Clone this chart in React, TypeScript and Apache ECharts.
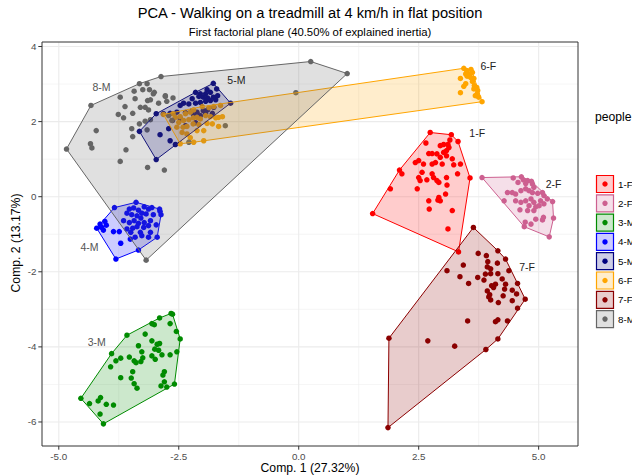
import React, { useEffect, useRef } from "react";
import * as echarts from "echarts";

const groups = ["1-F", "2-F", "3-M", "4-M", "5-M", "6-F", "7-F", "8-M"];
const colors = ["#FF0000", "#CD6090", "#008B00", "#0000FF", "#000080", "#FFA500", "#8B0000", "#666666"];

const g1F = [[2.74,1.71],[3.18,1.65],[3.32,1.47],[2.65,1.43],[2.95,1.36],[3.02,1.39],[3.11,1.39],[3.15,1.51],[3.13,1.31],[3.08,1.23],[3.02,1.18],[2.71,1.15],[2.78,1.15],[2.88,1.14],[2.95,1.05],[3.08,1.09],[3.20,1.01],[2.85,0.91],[2.78,0.87],[2.50,0.96],[2.43,0.91],[2.60,0.87],[2.99,0.87],[3.23,0.85],[3.37,0.87],[2.10,0.71],[2.15,0.61],[2.57,0.65],[2.78,0.61],[2.81,0.51],[2.50,0.51],[2.53,0.43],[2.67,0.45],[2.88,0.43],[2.92,0.38],[3.08,0.51],[3.31,0.61],[3.57,0.50],[2.47,0.21],[3.09,0.31],[1.91,0.21],[3.06,0.07],[2.92,-0.02],[2.95,-0.11],[2.71,-0.11],[2.90,-0.09],[2.72,-0.33],[3.20,-0.37],[1.54,-0.45],[3.11,-0.86],[3.33,-1.47]];
const g2F = [[3.82,0.51],[4.47,0.50],[4.64,0.53],[4.68,0.45],[4.77,0.43],[4.85,0.41],[4.87,0.34],[4.73,0.35],[4.57,0.38],[4.35,0.11],[4.45,0.11],[4.52,0.07],[4.63,0.16],[4.73,0.21],[4.80,0.16],[4.87,0.11],[4.90,0.25],[4.98,0.09],[5.08,0.11],[5.11,0.03],[5.18,-0.06],[5.29,-0.13],[4.28,-0.11],[4.52,-0.11],[4.63,-0.15],[4.73,-0.11],[4.84,-0.06],[4.90,-0.15],[5.04,-0.11],[5.11,-0.19],[4.94,-0.27],[4.80,-0.24],[4.61,-0.35],[4.77,-0.37],[4.90,-0.37],[5.10,-0.55],[5.08,-0.62],[5.31,-0.57],[4.94,-0.60],[4.72,-0.68],[4.84,-0.73],[4.70,-0.80],[5.22,-1.07],[5.01,-0.24]];
const g3M = [[-2.66,-3.11],[-2.63,-3.13],[-2.90,-3.23],[-3.06,-3.38],[-3.01,-3.41],[-2.68,-3.38],[-2.55,-3.59],[-3.58,-3.69],[-3.20,-3.66],[-2.47,-3.79],[-3.06,-3.84],[-2.95,-3.93],[-2.90,-3.91],[-3.34,-3.97],[-3.00,-4.06],[-2.92,-4.09],[-2.54,-4.13],[-3.90,-4.18],[-3.27,-4.13],[-3.71,-4.30],[-3.81,-4.37],[-3.53,-4.27],[-3.25,-4.29],[-3.06,-4.24],[-2.99,-4.33],[-2.85,-4.21],[-2.68,-4.21],[-3.43,-4.37],[-3.39,-4.42],[-3.29,-4.39],[-3.92,-4.53],[-3.46,-4.66],[-2.80,-4.66],[-2.83,-4.75],[-3.71,-4.82],[-3.49,-4.83],[-3.43,-4.98],[-3.37,-5.10],[-2.80,-4.93],[-2.59,-4.99],[-2.75,-5.07],[-2.87,-5.04],[-4.54,-5.37],[-4.13,-5.35],[-4.18,-5.44],[-4.36,-5.51],[-4.01,-5.53],[-3.86,-5.55],[-4.14,-5.79],[-4.07,-6.05]];
const g4M = [[-3.39,-0.15],[-3.84,-0.29],[-3.53,-0.33],[-3.44,-0.30],[-3.34,-0.36],[-3.22,-0.27],[-3.13,-0.33],[-3.06,-0.29],[-2.90,-0.33],[-2.87,-0.48],[-3.58,-0.44],[-3.48,-0.48],[-3.37,-0.51],[-3.27,-0.44],[-3.18,-0.46],[-3.03,-0.48],[-3.29,-0.57],[-4.04,-0.66],[-4.14,-0.73],[-4.21,-0.84],[-4.11,-0.82],[-4.01,-0.76],[-4.07,-0.89],[-3.65,-0.64],[-3.53,-0.69],[-3.43,-0.64],[-3.34,-0.71],[-3.22,-0.69],[-3.09,-0.64],[-2.97,-0.75],[-3.13,-0.77],[-3.23,-0.82],[-3.37,-0.80],[-3.46,-0.84],[-3.86,-0.93],[-3.74,-0.93],[-3.58,-0.86],[-3.50,-0.95],[-3.30,-0.95],[-3.09,-0.95],[-3.27,-1.04],[-3.13,-1.08],[-2.95,-1.08],[-3.41,-1.08],[-3.71,-1.24],[-3.51,-1.13],[-3.34,-1.42],[-3.81,-1.66],[-2.89,-0.39]];
const g5M = [[-1.78,3.02],[-1.71,2.87],[-1.91,2.85],[-1.84,2.78],[-1.94,2.74],[-2.05,2.74],[-2.15,2.78],[-2.08,2.67],[-1.99,2.65],[-1.90,2.63],[-1.78,2.65],[-1.69,2.69],[-2.22,2.61],[-2.29,2.47],[-2.15,2.49],[-2.05,2.51],[-1.94,2.54],[-1.84,2.56],[-1.73,2.58],[-2.40,2.49],[-2.47,2.43],[-1.42,2.49],[-2.97,2.21],[-2.82,2.21],[-2.68,2.22],[-2.54,2.25],[-2.22,2.29],[-2.12,2.25],[-1.99,2.29],[-1.90,2.31],[-1.77,2.38],[-2.19,2.16],[-2.05,2.16],[-1.94,2.21],[-1.80,2.22],[-3.32,1.74],[-2.89,1.65],[-2.71,1.81],[-2.57,1.39],[-2.97,0.99],[-2.47,2.08],[-2.63,2.03],[-2.36,1.89],[-2.15,1.97],[-2.68,1.49],[-2.36,2.24]];
const g6F = [[-2.82,2.19],[-2.62,2.21],[-2.57,2.11],[-2.47,2.13],[-2.36,2.21],[-2.26,2.25],[-2.19,2.31],[-2.01,2.40],[-1.87,2.37],[-1.77,2.40],[-1.63,2.43],[-2.50,1.98],[-2.40,2.03],[-2.29,2.05],[-2.20,2.10],[-2.12,2.11],[-2.05,2.07],[-1.94,2.16],[-1.84,2.13],[-1.73,2.10],[-1.67,2.11],[-1.59,2.13],[-2.54,1.85],[-2.41,1.85],[-2.33,1.87],[-2.20,1.94],[-2.08,1.92],[-1.91,1.95],[-1.80,1.94],[-2.43,1.71],[-2.33,1.67],[-2.12,1.76],[-1.98,1.76],[-1.67,1.87],[-2.47,1.41],[-2.19,1.45],[-1.98,1.49],[-2.26,1.57],[3.44,3.42],[3.50,3.36],[3.59,3.39],[3.62,3.31],[3.57,3.27],[3.48,3.27],[3.37,3.15],[3.51,3.21],[3.58,3.18],[3.65,3.15],[3.62,3.07],[3.48,3.01],[3.44,2.94],[3.66,2.96],[3.71,2.91],[3.65,2.87],[3.73,2.83],[3.37,2.77],[3.72,2.74],[3.75,2.65],[3.68,2.69],[3.82,2.53]];
const g7F = [[3.64,-0.82],[3.74,-1.51],[3.91,-1.57],[4.15,-1.44],[4.31,-1.66],[3.43,-1.82],[3.94,-1.73],[3.93,-1.87],[4.00,-1.92],[4.14,-1.77],[3.09,-1.97],[3.36,-2.13],[3.73,-2.15],[3.89,-2.06],[4.00,-2.05],[4.15,-2.05],[4.38,-1.97],[3.86,-2.22],[4.24,-2.19],[3.54,-2.31],[4.10,-2.33],[4.31,-2.33],[4.56,-2.31],[4.06,-2.42],[4.29,-2.46],[3.93,-2.51],[4.45,-2.49],[4.54,-2.59],[3.96,-2.67],[4.00,-2.75],[4.26,-2.64],[4.16,-2.82],[4.45,-2.77],[4.72,-2.73],[4.56,-2.97],[3.52,-3.31],[4.10,-3.33],[4.15,-3.28],[4.35,-3.31],[2.69,-3.84],[3.25,-3.98],[4.15,-3.79],[3.90,-4.07],[1.88,-3.77],[1.86,-6.15],[3.98,-2.61],[4.02,-2.37]];
const g8M = [[-2.87,3.20],[-3.32,3.01],[-3.16,3.01],[-3.43,2.81],[-3.25,2.85],[-3.11,2.85],[-3.01,2.78],[-3.72,2.65],[-3.41,2.61],[-3.15,2.56],[-3.09,2.58],[-2.92,2.49],[-2.78,2.67],[-2.75,2.54],[-4.33,2.43],[-3.62,2.40],[-3.30,2.38],[-3.20,2.38],[-3.13,2.31],[-3.76,2.19],[-3.65,2.10],[-3.46,2.22],[-3.32,1.94],[-3.20,2.01],[-3.09,2.05],[-4.22,1.76],[-3.48,1.81],[-3.46,1.60],[-4.34,1.41],[-4.31,1.30],[-4.84,1.27],[-3.60,1.25],[-3.72,0.94],[-3.15,0.78],[-2.80,0.71],[-3.18,-1.69],[0.25,3.60],[1.01,3.28],[-0.06,2.77],[-1.53,1.89],[-2.71,2.16],[-2.64,2.03],[-3.03,2.74],[-2.78,2.69],[-3.16,1.78],[-2.29,1.45],[-2.62,2.63]];

const groupData = [g1F, g2F, g3M, g4M, g5M, g6F, g7F, g8M];

// group label anchor positions (data units)
const labelX = [3.72, 5.31, -4.21, -4.36, -1.30, 3.95, 4.76, -4.11];
const labelY = [1.69, 0.34, -3.87, -1.34, 3.11, 3.48, -1.88, 2.92];
const labelTone = ["#222222", "#222222", "#555555", "#555555", "#222222", "#222222", "#222222", "#555555"];

const xMajor = [-5, -2.5, 0, 2.5, 5];
const xMinor = [-3.75, -1.25, 1.25, 3.75];
const yMajor = [-6, -4, -2, 0, 2, 4];
const yMinor = [-5, -3, -1, 1, 3];
const xTickLabels = ["-5.0", "-2.5", "0.0", "2.5", "5.0"];
const yTickLabels = ["-6", "-4", "-2", "0", "2", "4"];

const FONT = "Liberation Sans, Arial, Helvetica, sans-serif";

function convexHull(pts: number[][]): number[][] {
  const p = pts.slice().sort((a, b) => a[0] - b[0] || a[1] - b[1]);
  const cross = (o: number[], a: number[], b: number[]) =>
    (a[0] - o[0]) * (b[1] - o[1]) - (a[1] - o[1]) * (b[0] - o[0]);
  const lower: number[][] = [];
  for (const q of p) {
    while (lower.length >= 2 && cross(lower[lower.length - 2], lower[lower.length - 1], q) <= 0) lower.pop();
    lower.push(q);
  }
  const upper: number[][] = [];
  for (let i = p.length - 1; i >= 0; i--) {
    const q = p[i];
    while (upper.length >= 2 && cross(upper[upper.length - 2], upper[upper.length - 1], q) <= 0) upper.pop();
    upper.push(q);
  }
  upper.pop();
  lower.pop();
  return lower.concat(upper);
}

function rgba(hex: string, a: number) {
  const n = parseInt(hex.slice(1), 16);
  return `rgba(${(n >> 16) & 255},${(n >> 8) & 255},${n & 255},${a})`;
}

function txt(text: string, x: number, y: number, size: number, fill: string, align = "center", valign = "middle", rotation = 0) {
  return {
    type: "text",
    x,
    y,
    rotation,
    silent: true,
    style: {
      text,
      fill,
      fontSize: size,
      fontFamily: FONT,
      textAlign: align,
      textVerticalAlign: valign,
      align,
      verticalAlign: valign,
    },
  };
}

export default function App() {
  const ref = useRef<HTMLDivElement>(null);
  useEffect(() => {
    document.body.style.margin = "0";
    if (!ref.current) return;
    const chart = echarts.init(ref.current, null, { renderer: "svg" });

    const series: any[] = [];

    // grid lines, ticks, tick labels (x)
    series.push({
      type: "custom",
      z: 0,
      silent: true,
      data: xMinor.map((v) => [v, 0]),
      renderItem: (params: any, api: any) => {
        const cs = params.coordSys;
        const x = api.coord([api.value(0), 0])[0];
        return { type: "line", shape: { x1: x, y1: cs.y, x2: x, y2: cs.y + cs.height }, style: { stroke: "#EFEFEF", lineWidth: 0.6 } };
      },
    });
    series.push({
      type: "custom",
      z: 0,
      silent: true,
      data: yMinor.map((v) => [0, v]),
      renderItem: (params: any, api: any) => {
        const cs = params.coordSys;
        const y = api.coord([0, api.value(1)])[1];
        return { type: "line", shape: { x1: cs.x, y1: y, x2: cs.x + cs.width, y2: y }, style: { stroke: "#EFEFEF", lineWidth: 0.6 } };
      },
    });
    series.push({
      type: "custom",
      z: 1,
      silent: true,
      data: xMajor.map((v) => [v, 0]),
      renderItem: (params: any, api: any) => {
        const cs = params.coordSys;
        const x = api.coord([api.value(0), 0])[0];
        const b = cs.y + cs.height;
        return {
          type: "group",
          children: [
            { type: "line", shape: { x1: x, y1: cs.y, x2: x, y2: b }, style: { stroke: "#EBEBEB", lineWidth: 1.1 } },
            { type: "line", shape: { x1: x, y1: b, x2: x, y2: b + 3.7 }, style: { stroke: "#333333", lineWidth: 1 } },
            txt(xTickLabels[params.dataIndex], x, b + 5.5, 9.8, "#4D4D4D", "center", "top"),
          ],
        };
      },
    });
    series.push({
      type: "custom",
      z: 1,
      silent: true,
      data: yMajor.map((v) => [0, v]),
      renderItem: (params: any, api: any) => {
        const cs = params.coordSys;
        const y = api.coord([0, api.value(1)])[1];
        return {
          type: "group",
          children: [
            { type: "line", shape: { x1: cs.x, y1: y, x2: cs.x + cs.width, y2: y }, style: { stroke: "#EBEBEB", lineWidth: 1.1 } },
            { type: "line", shape: { x1: cs.x - 3.7, y1: y, x2: cs.x, y2: y }, style: { stroke: "#333333", lineWidth: 1 } },
            txt(yTickLabels[params.dataIndex], cs.x - 5.5, y, 9.8, "#4D4D4D", "right", "middle"),
          ],
        };
      },
    });

    // points
    groups.forEach((g, i) => {
      series.push({
        type: "scatter",
        name: g,
        z: 2,
        symbol: "circle",
        symbolSize: 5.5,
        itemStyle: { color: colors[i], opacity: 1 },
        data: groupData[i],
      });
    });

    // hulls
    groups.forEach((g, i) => {
      const h = convexHull(groupData[i]);
      series.push({
        type: "custom",
        name: g + " hull",
        z: 3,
        silent: true,
        data: [[h[0][0], h[0][1]]],
        renderItem: (params: any, api: any) => ({
          type: "polygon",
          shape: { points: h.map((p) => api.coord(p)) },
          style: { fill: rgba(colors[i], 0.2), stroke: colors[i], lineWidth: 1 },
        }),
      });
    });

    // group labels
    series.push({
      type: "custom",
      z: 4,
      silent: true,
      data: groups.map((g, i) => [labelX[i], labelY[i]]),
      renderItem: (params: any, api: any) => {
        const p = api.coord([api.value(0), api.value(1)]);
        const i = params.dataIndex;
        return txt(groups[i], p[0], p[1], 10.5, labelTone[i], "center", "middle");
      },
    });

    const legendEls: any[] = [];
    legendEls.push(txt("people", 595, 116.5, 12.2, "#000000", "left", "middle"));
    groups.forEach((g, i) => {
      const y0 = 175.5 + i * 19.3;
      legendEls.push({
        type: "rect",
        silent: true,
        shape: { x: 596.5, y: y0, width: 17, height: 17 },
        style: { fill: rgba(colors[i], 0.2), stroke: colors[i], lineWidth: 1.2 },
      });
      legendEls.push({
        type: "circle",
        silent: true,
        shape: { cx: 605, cy: y0 + 8.5, r: 2.7 },
        style: { fill: colors[i] },
      });
      legendEls.push(txt(g, 618, y0 + 8.5, 9.8, "#000000", "left", "middle"));
    });

    const option: any = {
      animation: false,
      backgroundColor: "#ffffff",
      textStyle: { fontFamily: FONT },
      grid: {
        left: 42,
        right: 54,
        top: 42,
        bottom: 30,
        show: true,
        borderColor: "#333333",
        borderWidth: 1,
        backgroundColor: "transparent",
        z: 5,
      },
      xAxis: {
        type: "value",
        min: -5.35,
        max: 5.82,
        axisLine: { show: false },
        axisTick: { show: false },
        axisLabel: { show: false },
        splitLine: { show: false },
      },
      yAxis: {
        type: "value",
        min: -6.64,
        max: 4.12,
        axisLine: { show: false },
        axisTick: { show: false },
        axisLabel: { show: false },
        splitLine: { show: false },
      },
      graphic: [
        txt("PCA - Walking on a treadmill at 4 km/h in flat position", 310, 13, 14.7, "#000000"),
        txt("First factorial plane (40.50% of explained inertia)", 310, 31.5, 11.3, "#000000"),
        txt("Comp. 1 (27.32%)", 310, 467.5, 12.2, "#000000"),
        txt("Comp. 2 (13.17%)", 16, 243, 12.2, "#000000", "center", "middle", Math.PI / 2),
        ...legendEls,
      ],
      series,
    };
    chart.setOption(option);
    return () => chart.dispose();
  }, []);
  return <div ref={ref} style={{ width: 632, height: 476 }} />;
}
